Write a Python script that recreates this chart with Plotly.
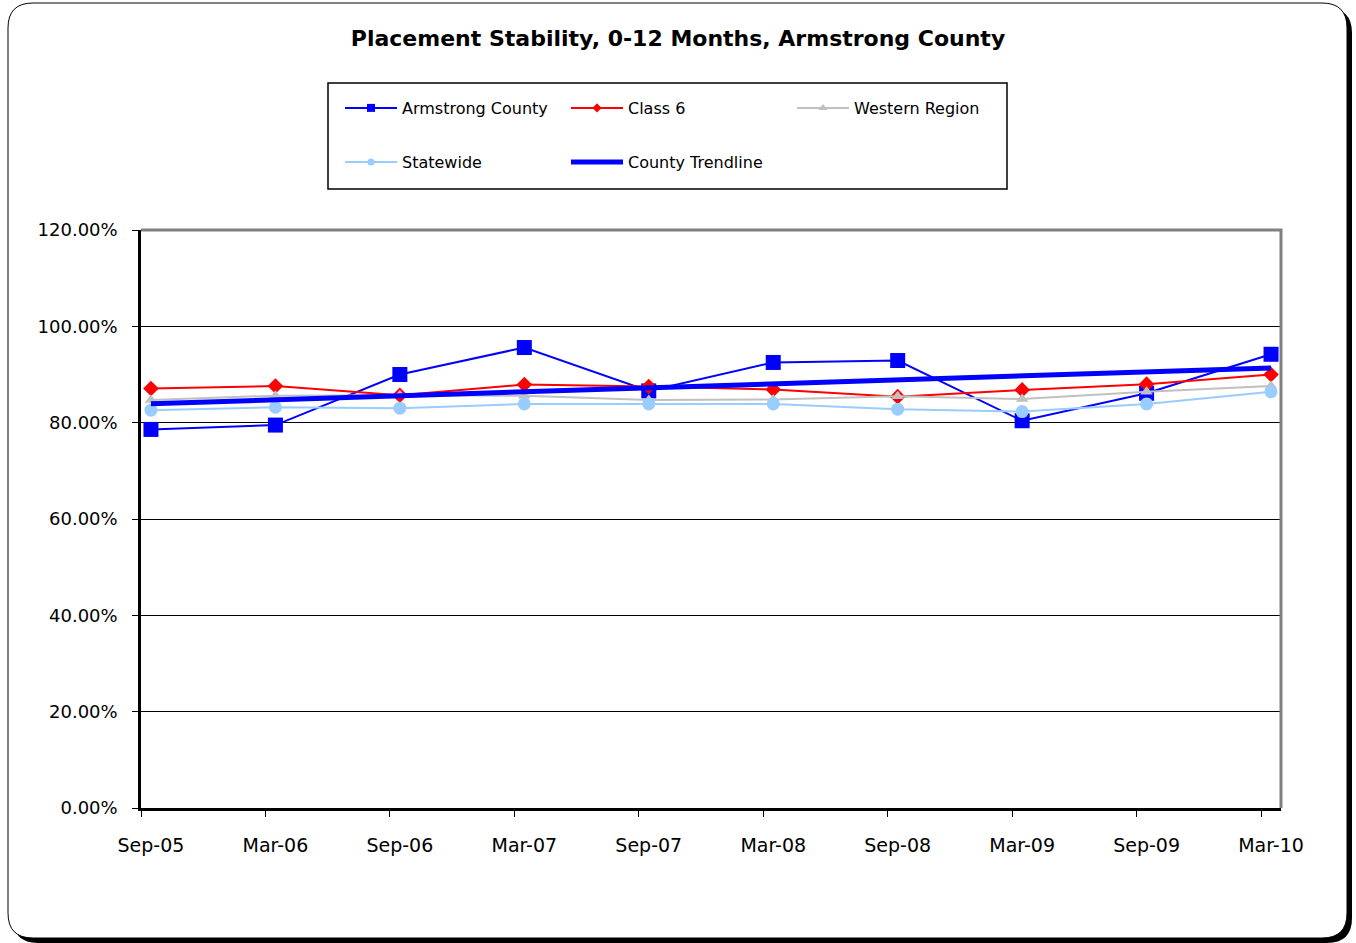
import numpy as np
import plotly.graph_objects as go

# ---- data -------------------------------------------------------------
periods = ["Sep-05", "Mar-06", "Sep-06", "Mar-07", "Sep-07",
           "Mar-08", "Sep-08", "Mar-09", "Sep-09", "Mar-10"]

armstrong = [78.6, 79.5, 90.0, 95.6, 86.6, 92.5, 92.9, 80.4, 86.1, 94.2]
class6 = [87.1, 87.6, 85.7, 87.9, 87.5, 86.9, 85.4, 86.8, 88.0, 90.0]
western = [84.7, 85.6, 85.7, 85.6, 84.7, 84.8, 85.5, 84.9, 86.4, 87.6]
statewide = [82.6, 83.2, 83.0, 83.9, 83.9, 83.9, 82.8, 82.3, 83.9, 86.4]

y_ticks = [0, 20, 40, 60, 80, 100, 120]
y_tick_labels = ["0.00%", "20.00%", "40.00%", "60.00%",
                 "80.00%", "100.00%", "120.00%"]

# ---- layout geometry (pixels) ----------------------------------------
W, H = 1356, 943
L, R, T, B = 141, 75, 230, 135
PW, PH = W - L - R, H - T - B


def px(x):
    return (x - L) / PW


def py(y):
    return (H - B - y) / PH


def rounded_rect(x0, y0, x1, y1, r):
    pts = [
        f"M{px(x0 + r)},{py(y0)}", f"L{px(x1 - r)},{py(y0)}",
        f"Q{px(x1)},{py(y0)} {px(x1)},{py(y0 + r)}",
        f"L{px(x1)},{py(y1 - r)}",
        f"Q{px(x1)},{py(y1)} {px(x1 - r)},{py(y1)}",
        f"L{px(x0 + r)},{py(y1)}",
        f"Q{px(x0)},{py(y1)} {px(x0)},{py(y1 - r)}",
        f"L{px(x0)},{py(y0 + r)}",
        f"Q{px(x0)},{py(y0)} {px(x0 + r)},{py(y0)}", "Z",
    ]
    return " ".join(pts)


x = np.arange(len(periods))
slope, intercept = np.polyfit(x, armstrong, 1)
trend = slope * x + intercept

FONT = "DejaVu Sans"

fig = go.Figure()

series = [
    ("Armstrong County", armstrong, "#0000FF", "square", 15, 8),
    ("Class 6", class6, "#FF0000", "diamond", 12, 7),
    ("Western Region", western, "#C0C0C0", "triangle-up", 11, 8),
    ("Statewide", statewide, "#99CCFF", "circle", 13, 7),
]

for name, vals, color, sym, size, _ in series:
    fig.add_trace(go.Scatter(
        x=x, y=vals, mode="lines+markers", name=name, showlegend=False,
        line=dict(color=color, width=2),
        marker=dict(symbol=sym, size=size, color=color, line=dict(width=0)),
    ))

fig.add_trace(go.Scatter(
    x=x, y=trend, mode="lines", name="County Trendline", showlegend=False,
    line=dict(color="#0000FF", width=5),
))

# legend entries (two rows)
rows = {"Armstrong County": "legend", "Class 6": "legend",
        "Western Region": "legend", "Statewide": "legend2"}
for name, vals, color, sym, size, lsize in series:
    fig.add_trace(go.Scatter(
        x=[None], y=[None], mode="lines+markers", name=name,
        legend=rows[name],
        line=dict(color=color, width=2),
        marker=dict(symbol=sym, size=lsize, color=color, line=dict(width=0)),
    ))
fig.add_trace(go.Scatter(
    x=[None], y=[None], mode="lines", name="County Trendline",
    legend="legend2", line=dict(color="#0000FF", width=5),
))

legend_common = dict(
    orientation="h", xanchor="left", yanchor="middle",
    bgcolor="rgba(0,0,0,0)", borderwidth=0,
    font=dict(family=FONT, size=16, color="black"),
    itemwidth=52, entrywidth=159, entrywidthmode="pixels",
    itemclick=False, itemdoubleclick=False,
)

shapes = [
    # card shadow and card
    dict(type="path", xref="paper", yref="paper", layer="below",
         path=rounded_rect(13, 8, 1352, 943, 25),
         fillcolor="black", line=dict(width=0)),
    dict(type="path", xref="paper", yref="paper", layer="below",
         path=rounded_rect(8, 3, 1347, 938, 25),
         fillcolor="white", line=dict(color="black", width=1)),
    # legend box
    dict(type="rect", xref="paper", yref="paper", layer="below",
         x0=px(328), x1=px(1007), y0=py(83), y1=py(189),
         line=dict(color="black", width=1.5), fillcolor="rgba(0,0,0,0)"),
    # top / right plot border
    dict(type="path", xref="paper", yref="paper", layer="above",
         path=f"M{px(141)},{py(230)} L{px(1281)},{py(230)} L{px(1281)},{py(808)}",
         line=dict(color="#808080", width=3)),
]

fig.update_layout(
    width=W, height=H,
    margin=dict(l=L, r=R, t=T, b=B),
    paper_bgcolor="white", plot_bgcolor="white",
    font=dict(family=FONT, color="black"),
    title=dict(
        text="<b>Placement Stability, 0-12 Months, Armstrong County</b>",
        x=0.5, xref="container", xanchor="center",
        y=1 - 38 / H, yref="container", yanchor="middle",
        font=dict(family=FONT, size=22, color="black"),
    ),
    legend=dict(x=px(340), y=py(108), **legend_common),
    legend2=dict(x=px(340), y=py(162), **legend_common),
    shapes=shapes,
    xaxis=dict(
        range=[-0.08, len(periods) - 1 + 0.08],
        tickmode="array", tickvals=list(x), ticktext=periods,
        ticks="", showgrid=False, zeroline=False,
        showline=True, linecolor="black", linewidth=2.5,
        tickfont=dict(family=FONT, size=19, color="black"),
        ticklabelstandoff=18,
        minor=dict(ticks="outside", tick0=-0.08, dtick=1, ticklen=6,
                   tickwidth=1, tickcolor="black", showgrid=False),
    ),
    yaxis=dict(
        range=[0, 120], tickmode="array", tickvals=y_ticks,
        ticktext=y_tick_labels,
        ticks="outside", ticklen=6, tickwidth=1, tickcolor="black",
        showgrid=True, gridcolor="black", gridwidth=1,
        zeroline=False, showline=True, linecolor="black", linewidth=2.5,
        tickfont=dict(family=FONT, size=18, color="black"),
        ticklabelstandoff=11,
    ),
)

fig.write_html("out.html")
